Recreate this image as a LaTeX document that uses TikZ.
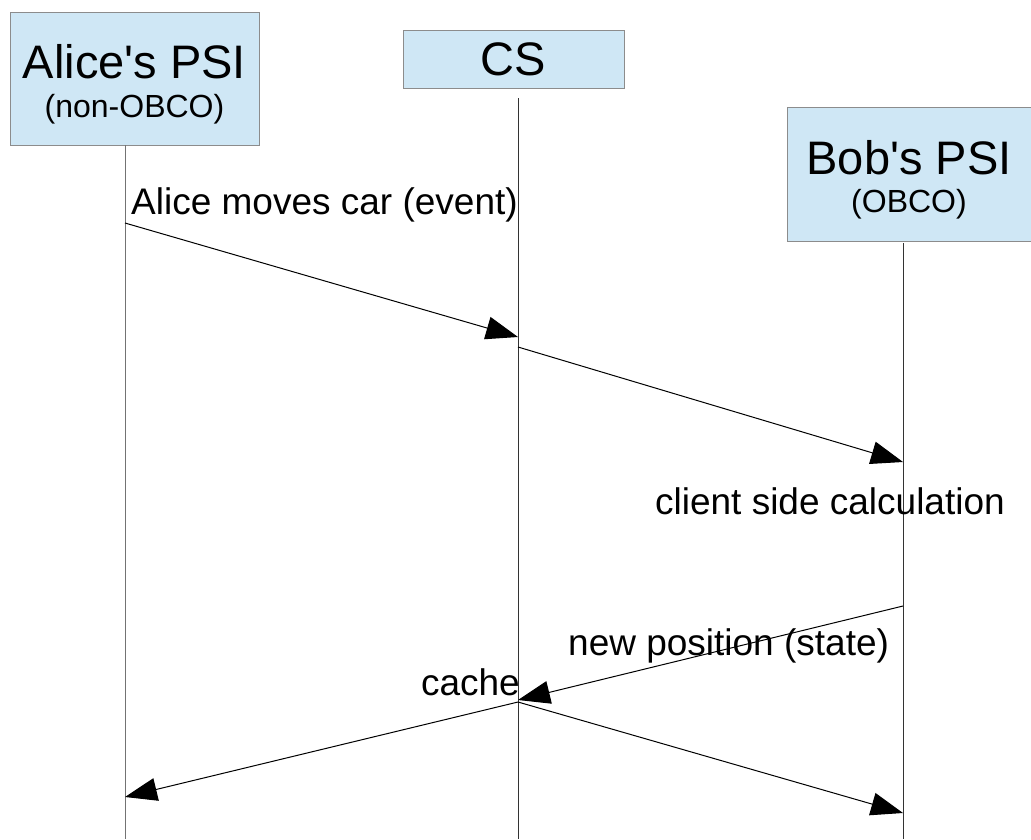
\documentclass[tikz,border=0pt]{standalone}
\usepackage{fontspec}
\setmainfont{Liberation Sans}[Ligatures=TeXOff]
\usetikzlibrary{arrows.meta}
\definecolor{boxfill}{HTML}{CFE7F5}
\definecolor{boxline}{HTML}{8C8C8C}
\begin{document}
\begin{tikzpicture}[x=1pt,y=-1pt,
  actor/.style={draw=boxline,fill=boxfill,line width=1pt,rectangle,inner sep=0pt,align=center},
  lifeline/.style={line width=1pt,draw=black!80},
  msg/.style={line width=1pt,-{Triangle[length=32pt,width=23pt]}},
  lbl/.style={inner sep=0pt,font=\fontsize{37}{44}\selectfont},
  title/.style={font=\fontsize{47}{52}\selectfont},
  sub/.style={font=\fontsize{32}{36}\selectfont}]
\useasboundingbox (0,0) rectangle (1031,839);

% participants
\node[actor,minimum width=249pt,minimum height=133pt] (alice) at (134.5,78.5) {};
\node[title,anchor=base,inner sep=0pt] (alicet) at (134.5,78) {Alice's PSI};
\node[sub,anchor=base,inner sep=0pt] (alices) at (134.5,117) {(non-OBCO)};

\node[actor,minimum width=221pt,minimum height=58pt] (cs) at (513.5,59) {};
\node[title,anchor=base,inner sep=0pt] (cst) at (513.5,75) {CS};

\node[actor,minimum width=244pt,minimum height=134pt] (bob) at (909,174) {};
\node[title,anchor=base,inner sep=0pt] (bobt) at (909,174) {Bob's PSI};
\node[sub,anchor=base,inner sep=0pt] (bobs) at (909,212) {(OBCO)};

% points on the lifelines
\coordinate (a0) at (125,145);
\coordinate (a1) at (125,223);
\coordinate (a2) at (125,797);
\coordinate (aend) at (125,839);
\coordinate (c0) at (518,98);
\coordinate (c1) at (518,337);
\coordinate (c2) at (518,347);
\coordinate (c3) at (518,700);
\coordinate (c4) at (518,702);
\coordinate (cend) at (518,839);
\coordinate (b0) at (903,243);
\coordinate (b1) at (903,462);
\coordinate (b2) at (903,606);
\coordinate (b3) at (903,813);
\coordinate (bend) at (903,839);

% lifelines
\draw[lifeline,draw=black!55] (a0) -- (aend);
\draw[lifeline] (c0) -- (cend);
\draw[lifeline] (b0) -- (bend);

% messages
\draw[msg] (a1) -- (c1);
\draw[msg] (c2) -- (b1);
\draw[msg] (b2) -- (c3);
\draw[msg] (c4) -- (a2);
\draw[msg] (c4) -- (b3);

% labels
\node[lbl,anchor=base west] (l1) at (131,214) {Alice moves car (event)};
\node[lbl,anchor=base east] (l2) at (1005,514) {client side calculation};
\node[lbl,anchor=base west] (l3) at (568,655) {new position (state)};
\node[lbl,anchor=base east] (l4) at (520,695) {cache};
\end{tikzpicture}
\end{document}
